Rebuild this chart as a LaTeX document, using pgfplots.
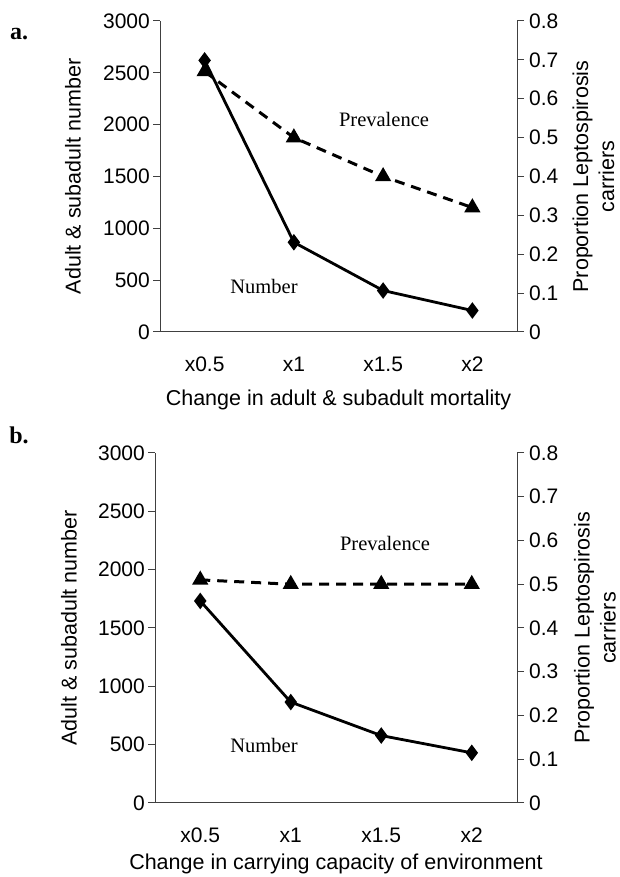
\documentclass[border=0pt]{standalone}
\usepackage{fontspec}
\setmainfont{Liberation Sans}
\newfontfamily\serif{Liberation Serif}
\usepackage{pgfplots}
\pgfplotsset{compat=1.18}
\begin{document}
\fontsize{21}{25}\selectfont
\begin{tikzpicture}
\useasboundingbox (0pt,0pt) rectangle (620pt,877pt);
\pgfplotsset{
  base/.style={
    scale only axis, anchor=south west, clip=false,
    xmin=-0.5, xmax=3.5, xtick={0,1,2,3},
    xticklabels={x0.5,x1,x1.5,x2},
    /pgf/number format/assume math mode=true,
    tick label style={font=\fontsize{21}{25}\selectfont},
    label style={font=\fontsize{21.5}{26}\selectfont, inner sep=0pt},
    xticklabel style={yshift=-11pt},
    axis line style={black!75, line width=1pt},
    major tick length=7pt, tick align=outside,
    ytick style={black!75, line width=1pt},
    xtick style={draw=none},
  },
  leftax/.style={base,
    axis y line*=left, axis x line*=bottom,
    ymin=0, ymax=3000, ytick={0,500,1000,1500,2000,2500,3000},
    scaled ticks=false,
    yticklabel style={/pgf/number format/1000 sep={}, xshift=4pt},
    ylabel={Adult \& subadult number},
  },
  rightax/.style={base,
    axis y line*=right, axis x line=none,
    ymin=0, ymax=0.8, ytick={0,0.1,0.2,0.3,0.4,0.5,0.6,0.7,0.8},
    yticklabel style={/pgf/number format/fixed, /pgf/number format/precision=1, xshift=-2pt},
    ylabel={Proportion Leptospirosis\\carriers},
    ylabel style={align=center},
  },
  numline/.style={black, line width=2.8pt, mark=diamond*, mark size=6pt, mark options={solid}},
  prevline/.style={black, line width=3pt, dash pattern=on 10pt off 7pt, mark=triangle*, mark size=6.4pt, mark options={solid}},
}
% Panel a
\begin{axis}[leftax, at={(160pt,545pt)}, width=357pt, height=311pt,
  xlabel={Change in adult \& subadult mortality},
  xlabel style={at={(axis description cs:0.5,-0.217)}, anchor=center},
  ylabel style={at={(axis description cs:-0.244,0.5)}, anchor=center}]
\addplot[numline] coordinates {(0,2620) (1,865) (2,400) (3,207)};
\end{axis}
\begin{axis}[rightax, at={(160pt,545pt)}, width=357pt, height=311pt,
  ylabel style={at={(axis description cs:1.214,0.5)}, anchor=center}]
\addplot[prevline] coordinates {(0,0.67) (1,0.5) (2,0.4) (3,0.32)};
\end{axis}
% Panel b
\begin{axis}[leftax, at={(155pt,74pt)}, width=362pt, height=350pt,
  xlabel={Change in carrying capacity of environment},
  xlabel style={at={(axis description cs:0.5,-0.174)}, anchor=center},
  ylabel style={at={(axis description cs:-0.238,0.5)}, anchor=center}]
\addplot[numline] coordinates {(0,1732) (1,865) (2,578) (3,430)};
\end{axis}
\begin{axis}[rightax, at={(155pt,74pt)}, width=362pt, height=350pt,
  ylabel style={at={(axis description cs:1.215,0.5)}, anchor=center}]
\addplot[prevline] coordinates {(0,0.51) (1,0.5) (2,0.5) (3,0.5)};
\end{axis}
% annotations
\node[font=\serif\bfseries\fontsize{24}{28}\selectfont] at (19pt,843pt) {a.};
\node[font=\serif\bfseries\fontsize{24}{28}\selectfont] at (19pt,442pt) {b.};
\node[font=\serif\fontsize{20.5}{24}\selectfont] at (384pt,757pt) {Prevalence};
\node[font=\serif\fontsize{20.5}{24}\selectfont] at (264pt,591pt) {Number};
\node[font=\serif\fontsize{20.5}{24}\selectfont] at (385pt,334pt) {Prevalence};
\node[font=\serif\fontsize{20.5}{24}\selectfont] at (264pt,132pt) {Number};
\end{tikzpicture}
\end{document}
